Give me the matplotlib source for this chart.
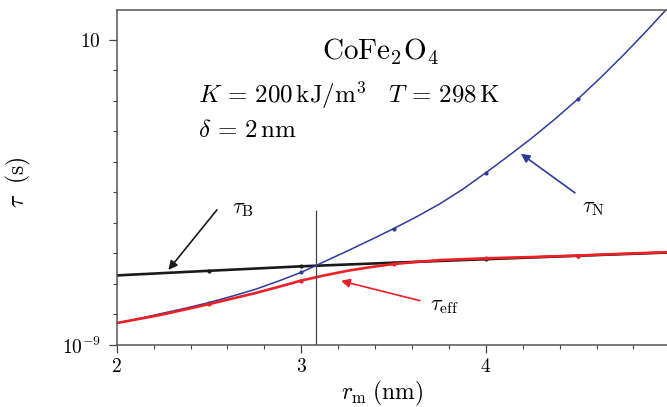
import numpy as np
import matplotlib
matplotlib.use('Agg')
import matplotlib.pyplot as plt
from matplotlib.ticker import FixedLocator, NullFormatter

plt.rcParams['mathtext.fontset'] = 'cm'
plt.rcParams['font.family'] = ['DejaVu Serif']

# Datos (r_m en nm, tiempos en s)
r_N = [2.0, 2.125, 2.25, 2.375, 2.5, 2.625, 2.75, 2.875, 3.0, 3.125, 3.25,
       3.375, 3.5, 3.625, 3.75, 3.875, 4.0, 4.125, 4.25, 4.375, 4.5, 4.625,
       4.75, 4.875, 5.0]
tau_N = [1.180e-9, 1.222e-9, 1.271e-9, 1.321e-9, 1.377e-9, 1.445e-9, 1.521e-9,
         1.618e-9, 1.730e-9, 1.875e-9, 2.032e-9, 2.208e-9, 2.404e-9, 2.630e-9,
         2.897e-9, 3.236e-9, 3.664e-9, 4.169e-9, 4.764e-9, 5.495e-9, 6.397e-9,
         7.534e-9, 8.954e-9, 1.074e-8, 1.297e-8]
r_eff = [2.0, 2.25, 2.5, 2.625, 2.75, 2.875, 3.0, 3.125, 3.25, 3.375, 3.5,
         3.625, 3.75, 4.0, 4.25, 4.5, 4.75, 5.0]
tau_eff = [1.180e-9, 1.259e-9, 1.361e-9, 1.419e-9, 1.479e-9, 1.549e-9, 1.626e-9,
           1.690e-9, 1.750e-9, 1.799e-9, 1.841e-9, 1.871e-9, 1.897e-9, 1.923e-9,
           1.941e-9, 1.963e-9, 1.991e-9, 2.014e-9]
r_B = [2.0, 2.5, 3.0, 3.5, 4.0, 4.5, 5.0]
tau_B = [1.69e-9, 1.75e-9, 1.81e-9, 1.86e-9, 1.91e-9, 1.96e-9, 2.01e-9]

r_cruce = 3.08  # interseccion tau_B = tau_N

xticks = [2, 3, 4, 5]
yticks = [1e-9, 1e-8]
ytick_labels = [r'$10^{-9}$', r'$10$']

azul = '#2e3a9a'
rojo = '#ee1f26'
negro = '#1a1a1a'

fig = plt.figure(figsize=(6.67, 4.07), dpi=100)
ax = fig.add_axes([0.175, 0.1523, 0.83, 0.8231])

ax.plot(r_B, tau_B, color=negro, lw=1.9, marker='o', ms=2,
        markevery=slice(1, 6))
ax.plot(r_N, tau_N, color=azul, lw=1.1, marker='o', ms=2,
        markevery=[4, 8, 12, 16, 20])
ax.plot(r_eff, tau_eff, color=rojo, lw=1.9, marker='o', ms=2,
        markevery=[2, 6, 10, 13, 15])
ax.vlines(r_cruce, 1e-9, 2.77e-9, color='#444444', lw=0.9)

ax.set_yscale('log')
ax.set_xlim(2, 5)
ax.set_ylim(1e-9, 1.25e-8)

ax.set_xticks(xticks)
ax.set_xticklabels([f'${t}$' for t in xticks])
ax.xaxis.set_minor_locator(FixedLocator(np.arange(2, 5.01, 0.2)))
ax.set_yticks(yticks)
ax.set_yticklabels(ytick_labels)
ax.yaxis.set_minor_locator(FixedLocator([10 ** (-9 + k / 10) for k in range(1, 10)]))
ax.yaxis.set_minor_formatter(NullFormatter())

ax.tick_params(which='major', length=5.5, width=0.9, color='#444444',
               labelsize=14, pad=6)
ax.tick_params(which='minor', length=3, width=0.8, color='#444444')
ax.tick_params(axis='x', pad=4)

for s in ['left', 'bottom', 'top']:
    ax.spines[s].set_color('#555555')
    ax.spines[s].set_linewidth(1.1)
ax.spines['right'].set_visible(False)

ax.set_xlabel(r'$r_\mathrm{m}\;(\mathrm{nm})$', fontsize=17)
ax.xaxis.set_label_coords(0.479, -0.1)
ax.set_ylabel(r'$\tau\ \ (\mathrm{s})$', fontsize=17)
ax.yaxis.set_label_coords(-0.151, 0.487)

ax.text(0.4754, 0.851, r'$\mathrm{CoFe_2O_4}$', transform=ax.transAxes,
        ha='center', va='baseline', fontsize=21)
ax.text(0.1468, 0.7224,
        r'$K\,=\,200\,\mathrm{kJ/m^3}\quad T\,=\,298\,\mathrm{K}$',
        transform=ax.transAxes, ha='left', va='baseline', fontsize=18)
ax.text(0.1468, 0.621, r'$\delta\,=\,2\,\mathrm{nm}$',
        transform=ax.transAxes, ha='left', va='baseline', fontsize=18)

# Etiquetas con flechas
ax.annotate('', xy=(2.28, 1.762e-9), xytext=(2.543, 2.77e-9),
            arrowprops=dict(arrowstyle='-|>', color=negro, lw=1.2,
                            mutation_scale=13, shrinkA=0, shrinkB=0))
ax.text(2.624, 2.81e-9, r'$\tau_\mathrm{B}$', ha='left', va='center', fontsize=16)

ax.annotate('', xy=(4.19, 4.23e-9), xytext=(4.483, 3.15e-9),
            arrowprops=dict(arrowstyle='-|>', color=azul, lw=1.2,
                            mutation_scale=13, shrinkA=0, shrinkB=0))
ax.text(4.521, 2.83e-9, r'$\tau_\mathrm{N}$', ha='left', va='center', fontsize=16)

ax.annotate('', xy=(3.215, 1.622e-9), xytext=(3.643, 1.397e-9),
            arrowprops=dict(arrowstyle='-|>', color=rojo, lw=1.2,
                            mutation_scale=13, shrinkA=0, shrinkB=0))
ax.text(3.697, 1.35e-9, r'$\tau_\mathrm{eff}$', ha='left', va='center', fontsize=16)

fig.savefig('out.png', dpi=100)
